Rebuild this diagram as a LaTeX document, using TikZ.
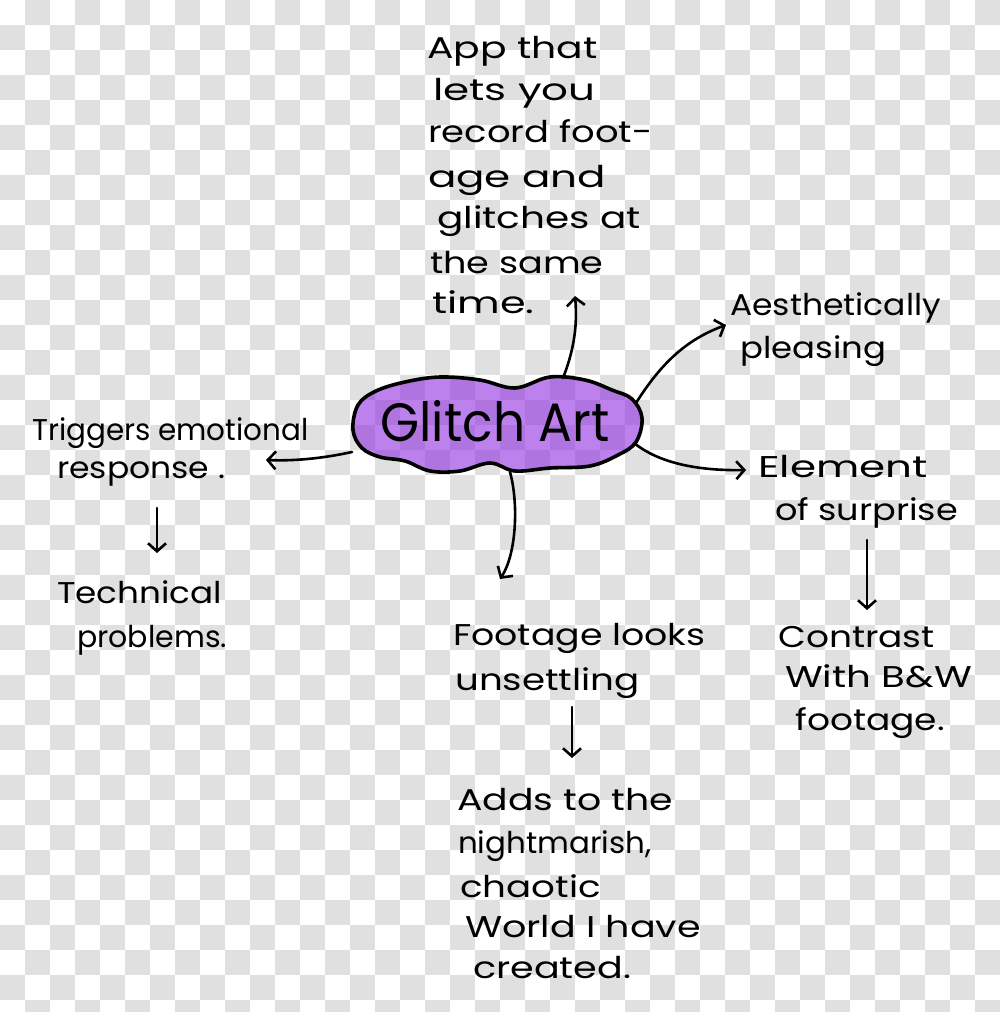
\documentclass[tikz,border=0pt]{standalone}
\usepackage{graphicx}
\usepackage{fontspec}
\setmainfont{Poppins}
\usetikzlibrary{arrows.meta}
\definecolor{chk}{RGB}{224,224,224}
\definecolor{glpurple}{RGB}{145,45,225}
\newcommand\hwx[2]{\scalebox{#1}[1]{#2}}
\tikzset{
  hw/.style={anchor=base west, inner sep=0pt, font=\fontsize{30}{36}\selectfont},
  big/.style={inner sep=0pt, font=\fontsize{54}{60}\selectfont},
  arr/.style={line width=2.6pt, line cap=round, line join=round, -{Straight Barb[length=8pt,width=18pt]}},
  cloudline/.style={line width=3.6pt, line join=round, fill=glpurple, fill opacity=0.6, draw opacity=1}
}
\begin{document}
\begin{tikzpicture}[x=1pt,y=-1pt]
\useasboundingbox (0,0) rectangle (1000,1012);
% checkerboard background
\begin{scope}
\clip (0,0) rectangle (1000,1012);
\fill[white] (0,0) rectangle (1000,1012);
\foreach \j in {0,...,40}{
  \pgfmathtruncatemacro\off{25*(1-mod(\j,2))}
  \foreach \i in {0,...,19}{
    \fill[chk] (\i*50+\off,\j*25) rectangle ++(25,25);
  }
}
\end{scope}
% cloud
\draw[cloudline] plot[smooth cycle, tension=0.6] coordinates {
 (353,430) (358,405) (376,391) (405,382) (440,377) (480,380) (515,388)
 (550,377) (585,380) (612,390) (632,399) (642,418) (636,442) (618,455)
 (590,466) (550,468) (515,471) (490,463) (460,471) (430,471) (405,461)
 (380,457) (362,448)};
\node[big] (glitch) at (495,421) {\hwx{0.93}{Glitch Art}};
% cloud border points
\coordinate (cN) at (563,378);
\coordinate (cNE) at (636,403);
\coordinate (cE) at (634,443);
\coordinate (cS) at (510,472);
\coordinate (cW) at (352,452);
% top block
\node[hw] (t1) at (427,58) {\hwx{1.31}{App that}};
\node[hw] (t2) at (433,100) {\hwx{1.40}{lets you}};
\node[hw] (t3) at (428,142) {\hwx{1.23}{record foot-}};
\node[hw] (t4) at (428,187) {\hwx{1.40}{age and}};
\node[hw] (t5) at (437,228) {\hwx{1.30}{glitches at}};
\node[hw] (t6) at (430,273) {\hwx{1.22}{the same}};
\node[hw] (t7) at (432,313) {\hwx{1.38}{time.}};
% left block
\node[hw] (l1) at (32,440) {\hwx{0.98}{Triggers emotional}};
\node[hw] (l2) at (57,478) {\hwx{1.10}{response .}};
\node[hw] (l3) at (57,603) {\hwx{1.14}{Technical}};
\node[hw] (l4) at (77,647) {\hwx{1.0}{problems.}};
% right top
\node[hw] (a1) at (730,315) {\hwx{1.10}{Aesthetically}};
\node[hw] (a2) at (740,358) {\hwx{1.13}{pleasing}};
% right
\node[hw] (e1) at (758,477) {\hwx{1.40}{Element}};
\node[hw] (e2) at (775,520) {\hwx{1.17}{of surprise}};
\node[hw] (c1) at (778,647) {\hwx{1.20}{Contrast}};
\node[hw] (c2) at (785,687) {\hwx{1.29}{With B\&W}};
\node[hw] (c3) at (795,730) {\hwx{1.20}{footage.}};
% bottom
\node[hw] (f1) at (453,645) {\hwx{1.21}{Footage looks}};
\node[hw] (f2) at (455,690) {\hwx{1.24}{unsettling}};
\node[hw] (d1) at (457,810) {\hwx{1.26}{Adds to the}};
\node[hw] (d2) at (458,853) {\hwx{1.03}{nightmarish,}};
\node[hw] (d3) at (460,897) {\hwx{1.24}{chaotic}};
\node[hw] (d4) at (465,937) {\hwx{1.27}{World I have}};
\node[hw] (d5) at (473,978) {\hwx{1.27}{created.}};
% arrow end points
\coordinate (pT) at (575,296);
\coordinate (pA) at (726,325);
\coordinate (pE) at (746,470);
\coordinate (pL) at (266,460);
\coordinate (pF) at (500,579);
\coordinate (pL1) at (157,508);
\coordinate (pL2) at (157,553);
\coordinate (pC1) at (867,540);
\coordinate (pC2) at (867,610);
\coordinate (pD1) at (572,707);
\coordinate (pD2) at (572,758);
% connectors
\draw[arr] (cN) .. controls (572,355) and (578,330) .. (pT);
\draw[arr] (cNE) .. controls (660,365) and (685,340) .. (pA);
\draw[arr] (cE) .. controls (655,460) and (690,471) .. (pE);
\draw[arr] (cW) .. controls (320,459) and (292,461) .. (pL);
\draw[arr] (cS) .. controls (519,505) and (516,555) .. (pF);
\draw[arr] (pL1) -- (pL2);
\draw[arr] (pC1) -- (pC2);
\draw[arr] (pD1) -- (pD2);
\end{tikzpicture}
\end{document}
